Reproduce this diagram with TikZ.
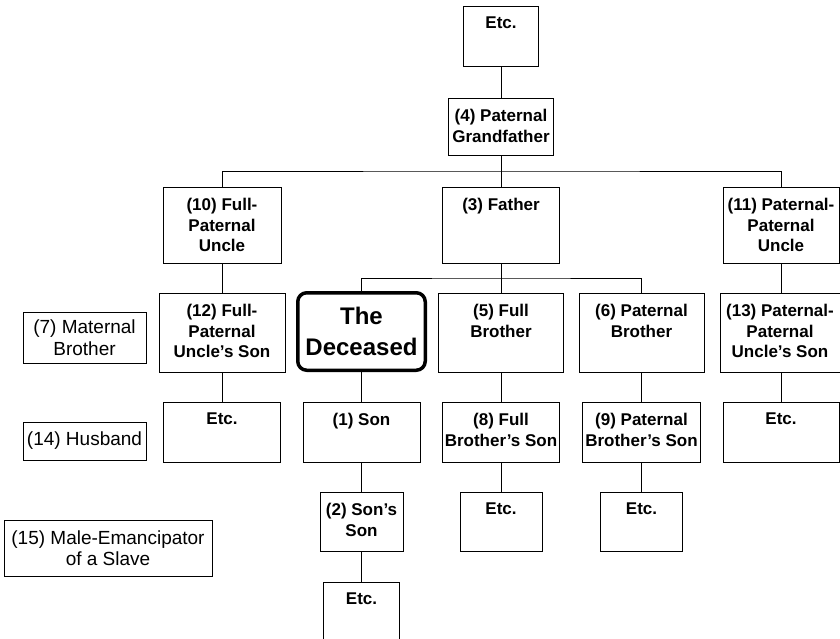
\documentclass[tikz,border=0pt]{standalone}
\usepackage{fontspec}
\setmainfont{Liberation Sans}
\usetikzlibrary{calc}

\newcommand{\kinfont}{\fontsize{17}{20.5}\selectfont\bfseries}
\newcommand{\sidefont}{\fontsize{19}{21.5}\selectfont}
\newcommand{\deadfont}{\fontsize{24}{31}\selectfont\bfseries}

\tikzset{
  kin/.style={draw, line width=1pt, inner sep=0pt},
  kintext/.style={anchor=north, yshift=-11.5pt, inner sep=0pt, align=center, font=\kinfont},
  side/.style={draw, line width=1pt, inner sep=0pt, align=center, font=\sidefont},
  link/.style={line width=1pt},
}

\begin{document}
\begin{tikzpicture}[x=1pt,y=-1pt]
\clip (0,0) rectangle (840,638);
% paternal line, upwards
\node[kin, minimum width=75pt, minimum height=60pt, label={[kintext]north:Etc.}] (etctop) at (501,36) {};
\node[kin, minimum width=105pt, minimum height=57pt, label={[kintext]north:(4) Paternal\\Grandfather}] (gf) at (501,126.5) {};
% second row
\node[kin, minimum width=118pt, minimum height=76pt, label={[kintext]north:(10) Full-\\Paternal\\Uncle}] (u10) at (222,225) {};
\node[kin, minimum width=117pt, minimum height=76pt, label={[kintext]north:(3) Father}] (fa) at (501,225) {};
\node[kin, minimum width=116pt, minimum height=76pt, label={[kintext]north:(11) Paternal-\\Paternal\\Uncle}] (u11) at (781,225) {};
% third row
\node[kin, minimum width=126pt, minimum height=79pt, label={[kintext]north:(12) Full-\\Paternal\\Uncle's Son}] (s12) at (222,332.5) {};
\node[draw, line width=3.5pt, rounded corners=9pt, minimum width=127.5pt, minimum height=77.5pt, align=center, font=\deadfont] (dec) at (361.5,331.5) {The\\Deceased};
\node[kin, minimum width=125pt, minimum height=79pt, label={[kintext]north:(5) Full\\Brother}] (fb5) at (501,332.5) {};
\node[kin, minimum width=125pt, minimum height=79pt, label={[kintext]north:(6) Paternal\\Brother}] (pb6) at (641.5,332.5) {};
\node[kin, minimum width=120pt, minimum height=79pt, label={[kintext]north:(13) Paternal-\\Paternal\\Uncle's Son}] (s13) at (780,332.5) {};
% fourth row
\node[kin, minimum width=117pt, minimum height=60pt, label={[kintext]north:Etc.}] (etc12) at (222,432) {};
\node[kin, minimum width=117pt, minimum height=60pt, label={[kintext]north:(1) Son}] (son1) at (361.5,432) {};
\node[kin, minimum width=117pt, minimum height=60pt, label={[kintext]north:(8) Full\\Brother's Son}] (fbs8) at (501,432) {};
\node[kin, minimum width=118pt, minimum height=60pt, label={[kintext]north:(9) Paternal\\Brother's Son}] (pbs9) at (641.5,432) {};
\node[kin, minimum width=116pt, minimum height=60pt, label={[kintext]north:Etc.}] (etc13) at (781,432) {};
% fifth row
\node[kin, minimum width=83pt, minimum height=59pt, label={[kintext]north:(2) Son's\\Son}] (ss2) at (361.5,521.5) {};
\node[kin, minimum width=82pt, minimum height=59pt, label={[kintext]north:Etc.}] (etc8) at (501,521.5) {};
\node[kin, minimum width=82pt, minimum height=59pt, label={[kintext]north:Etc.}] (etc9) at (641.5,521.5) {};
\node[kin, minimum width=76pt, minimum height=60pt, label={[kintext]north:Etc.}] (etc2) at (361.5,612) {};
% outside the paternal line
\node[side, minimum width=123pt, minimum height=51pt] (mb7) at (84.5,337.5) {(7) Maternal\\Brother};
\node[side, minimum width=123pt, minimum height=38pt] (hus14) at (84.5,441) {(14) Husband};
\node[side, minimum width=208pt, minimum height=56pt] (em15) at (108,548) {(15) Male-Emancipator\\of a Slave};
% connectors
\draw[link] (etctop) -- (gf);
\draw[link] (u10.north) |- ($(gf.south)!.5!(fa.north)$) -| (u11.north);
\draw[link] (gf) -- (fa);
\draw[link] (dec.north) |- ($(fa.south)!.5!(fb5.north)$) -| (pb6.north);
\draw[link] (fa) -- (fb5);
\draw[link] (u10) -- (s12);
\draw[link] (s12) -- (etc12);
\draw[link] (u11.south) -- (u11.south |- s13.north);
\draw[link] (s13.south -| etc13.north) -- (etc13.north);
\draw[link] (dec) -- (son1);
\draw[link] (son1) -- (ss2);
\draw[link] (ss2) -- (etc2);
\draw[link] (fb5) -- (fbs8);
\draw[link] (fbs8) -- (etc8);
\draw[link] (pb6) -- (pbs9);
\draw[link] (pbs9) -- (etc9);
\end{tikzpicture}
\end{document}
